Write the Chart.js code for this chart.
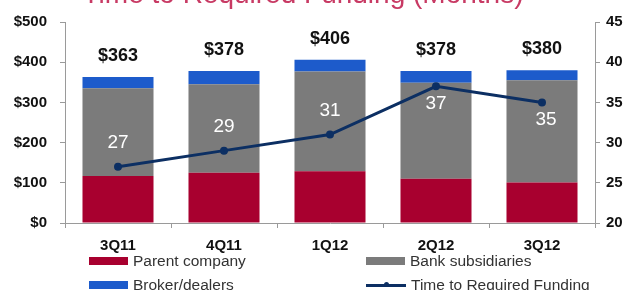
<!DOCTYPE html>
<html>
<head>
<meta charset="utf-8">
<script src="https://cdn.jsdelivr.net/npm/chart.js@4.4.1/dist/chart.umd.min.js"></script>
<style>
  body { margin: 0; background: #fff; overflow: hidden; }
  #wrap { position: relative; width: 626px; height: 290px; }
  .legend { position: absolute; left: 0; top: 0; width: 626px; height: 290px; pointer-events: none;
            font-family: "Liberation Sans", Arial, sans-serif; font-size: 15.5px; color: #333; }
  .item { position: absolute; display: flex; align-items: center; white-space: nowrap; height: 18px; }
  .swatch { width: 39px; height: 8px; margin-right: 5px; }
  .lineswatch { width: 40px; height: 3px; margin-right: 5px; position: relative; }
  .lineswatch::after { content: ''; position: absolute; left: 18px; top: -2px; width: 5px; height: 5px;
                       border-radius: 50%; background: inherit; }
</style>
</head>
<body>
<div id="wrap">
  <canvas id="fundingChart"></canvas>
  <div class="legend" id="legend"></div>
</div>
<script>
// data ($bn and months)
const quarters = ['3Q11', '4Q11', '1Q12', '2Q12', '3Q12'];
const parentCompany = [117, 125, 129, 110, 101];
const bankSubs = [218, 220, 248, 239, 254];
const brokerDealers = [28, 33, 29, 29, 25];
const totals = [363, 378, 406, 378, 380];
const monthsToFunding = [27, 29, 31, 37, 35];
const leftTicks = [0, 100, 200, 300, 400, 500];
const rightTicks = [20, 25, 30, 35, 40, 45];

const FONT = '"Liberation Sans", Arial, sans-serif';
const AXIS_GREY = '#9a9a9a';

// where the month label sits next to its point
const monthLabelSide = ['above', 'above', 'above', 'below', 'below'];

// labels: totals above bars + month values on the line, plus the (clipped) title
const labelPlugin = {
    id: 'labels',
    afterDatasetsDraw(chart) {
        const ctx = chart.ctx;
        ctx.save();

        // titre rogné en haut
        ctx.font = '28px ' + FONT;
        ctx.fillStyle = '#c83a64';
        ctx.textAlign = 'center';
        ctx.textBaseline = 'alphabetic';
        ctx.fillText('Time to Required Funding (Months)', 303, 3);

        // totals
        const topMeta = chart.getDatasetMeta(2);
        ctx.font = 'bold 18px ' + FONT;
        ctx.fillStyle = '#111';
        ctx.textBaseline = 'middle';
        topMeta.data.forEach((bar, i) => {
            ctx.fillText('$' + totals[i], bar.x, bar.y - 21);
        });

        // months on line
        const lineMeta = chart.getDatasetMeta(3);
        ctx.font = '19px ' + FONT;
        ctx.fillStyle = '#fff';
        lineMeta.data.forEach((pt, i) => {
            const dy = monthLabelSide[i] === 'above' ? -24 : 17;
            const dx = i === 4 ? 4 : 0;
            ctx.fillText(String(monthsToFunding[i]), pt.x + dx, pt.y + dy);
        });
        ctx.restore();
    }
};

const ctx = document.getElementById('fundingChart');

const chart = new Chart(ctx, {
    type: 'bar',
    data: {
        labels: quarters,
        datasets: [
            { label: 'Parent company', data: parentCompany, backgroundColor: '#a8002f', yAxisID: 'y', order: 1 },
            { label: 'Bank subsidiaries', data: bankSubs, backgroundColor: '#7b7b7b', yAxisID: 'y', order: 1 },
            { label: 'Broker/dealers', data: brokerDealers, backgroundColor: '#1d5bcb', yAxisID: 'y', order: 1 },
            {
                type: 'line',
                label: 'Time to Required Funding',
                data: monthsToFunding,
                yAxisID: 'y1',
                borderColor: '#0c2f63',
                backgroundColor: '#0c2f63',
                borderWidth: 3,
                pointRadius: 2.5,
                pointHoverRadius: 2.5,
                tension: 0,
                order: 0
            }
        ]
    },
    options: {
        responsive: true,
        maintainAspectRatio: false,
        animation: false,
        layout: { padding: { top: 16, left: 0, right: 0, bottom: 0 } },
        datasets: {
            bar: { categoryPercentage: 1, barPercentage: 0.67 }
        },
        plugins: {
            legend: { display: false },
            title: { display: false },
            tooltip: { enabled: false }
        },
        scales: {
            x: {
                stacked: true,
                afterFit: s => { s.height = 67; },
                border: { display: true, color: AXIS_GREY, width: 1 },
                grid: { drawOnChartArea: false, drawTicks: true, tickLength: 5, color: AXIS_GREY, offset: true },
                ticks: { color: '#111', padding: 9, font: { family: FONT, size: 15, weight: 'bold' } }
            },
            y: {
                stacked: true,
                position: 'left',
                min: leftTicks[0],
                max: leftTicks[leftTicks.length - 1],
                afterFit: s => { s.width = 65; },
                afterBuildTicks: s => { s.ticks = leftTicks.map(v => ({ value: v })); },
                border: { display: true, color: AXIS_GREY, width: 1 },
                grid: { drawOnChartArea: false, drawTicks: true, tickLength: 5, color: AXIS_GREY },
                ticks: {
                    color: '#111',
                    padding: 13,
                    font: { family: FONT, size: 15, weight: 'bold' },
                    callback: v => '$' + v
                }
            },
            y1: {
                position: 'right',
                min: rightTicks[0],
                max: rightTicks[rightTicks.length - 1],
                afterFit: s => { s.width = 31; },
                afterBuildTicks: s => { s.ticks = rightTicks.map(v => ({ value: v })); },
                border: { display: true, color: AXIS_GREY, width: 1 },
                grid: { drawOnChartArea: false, drawTicks: true, tickLength: 5, color: AXIS_GREY },
                ticks: { color: '#111', padding: 6, font: { family: FONT, size: 15, weight: 'bold' } }
            }
        }
    },
    plugins: [labelPlugin]
});

// légende HTML en 2 colonnes (comme l'original)
const legendSpots = [
    { left: 89, top: 261 }, { left: 366, top: 261 },
    { left: 89, top: 285 }, { left: 366, top: 285 }
];
const legendBox = document.getElementById('legend');
chart.data.datasets.forEach((ds, i) => {
    const item = document.createElement('div');
    item.className = 'item';
    item.style.left = legendSpots[i].left + 'px';
    item.style.top = (legendSpots[i].top - 9) + 'px';
    const sw = document.createElement('span');
    sw.className = ds.type === 'line' ? 'lineswatch' : 'swatch';
    sw.style.background = ds.type === 'line' ? ds.borderColor : ds.backgroundColor;
    item.appendChild(sw);
    const txt = document.createElement('span');
    txt.textContent = ds.label;
    item.appendChild(txt);
    legendBox.appendChild(item);
});
</script>
</body>
</html>
